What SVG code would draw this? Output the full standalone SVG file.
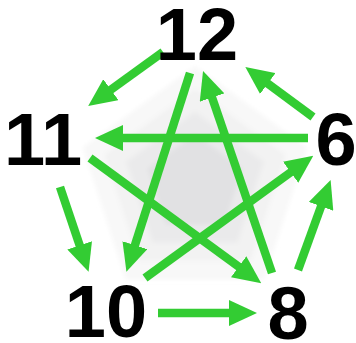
<svg xmlns="http://www.w3.org/2000/svg" width="356" height="343" viewBox="0 0 356 343">
<style>
.lbl{font-family:"Liberation Sans",Arial,sans-serif;font-weight:bold;font-size:74px;fill:#000;text-anchor:middle}
.arr{stroke:#33cc33;stroke-width:8.5;fill:none;marker-end:url(#ah)}
</style>
<defs>
<polygon id="pent" points="0,-100 95.11,-30.9 58.78,80.9 -58.78,80.9 -95.11,-30.9"/>
<marker id="ah" markerUnits="userSpaceOnUse" markerWidth="28" markerHeight="26" viewBox="0 0 28 26" refX="8" refY="13" orient="auto">
<path d="M0,0 L28,13 L0,26 z" fill="#33cc33"/>
</marker>
<filter id="soft" x="-20%" y="-20%" width="140%" height="140%"><feGaussianBlur stdDeviation="2"/></filter>
</defs>
<rect width="356" height="343" fill="#fff"/>
<g id="bg" filter="url(#soft)">
<use href="#pent" transform="translate(195,184) scale(1.18)" fill="#f8f8f8"/>
<use href="#pent" transform="translate(195,184) scale(0.95)" fill="#f2f2f2"/>
<use href="#pent" transform="translate(195,184) scale(0.72)" fill="#eaeaeb"/>
<use href="#pent" transform="translate(195,184) scale(0.5)" fill="#e1e1e3"/>
</g>
<g id="connectors">
<line class="arr" x1="163" y1="52" x2="104.4" y2="94.4"/>
<line class="arr" x1="313" y1="117" x2="261.4" y2="78.8"/>
<line class="arr" x1="308" y1="138" x2="115" y2="138"/>
<line class="arr" x1="190" y1="73" x2="132.5" y2="252.8"/>
<line class="arr" x1="272" y1="273" x2="209.5" y2="90.0"/>
<line class="arr" x1="90" y1="158" x2="245.1" y2="271.4"/>
<line class="arr" x1="145" y1="278" x2="297.1" y2="167.6"/>
<line class="arr" x1="60" y1="187" x2="82.2" y2="252.9"/>
<line class="arr" x1="158" y1="313" x2="237" y2="313"/>
<line class="arr" x1="298" y1="270" x2="323.8" y2="198.9"/>
</g>
<g id="n12"><text class="lbl" x="197" y="60">12</text></g>
<g id="n11"><text class="lbl" x="43" y="165">11</text></g>
<g id="n6"><text class="lbl" x="336" y="165">6</text></g>
<g id="n10"><text class="lbl" x="106" y="337">10</text></g>
<g id="n8"><text class="lbl" x="288" y="339">8</text></g>
</svg>
